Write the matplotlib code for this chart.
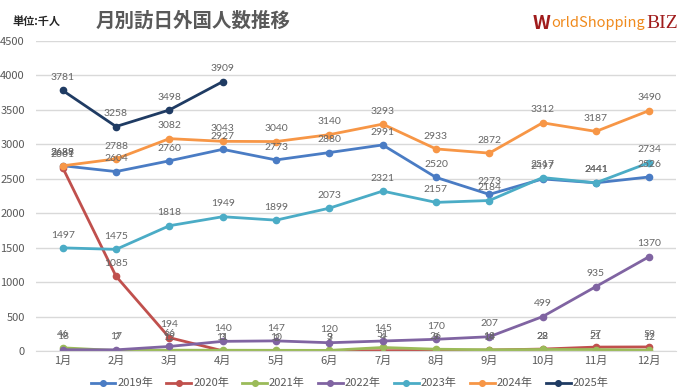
import matplotlib.pyplot as plt

plt.rcParams['font.family'] = ['Noto Sans CJK JP', 'DejaVu Sans']

months = ['1月', '2月', '3月', '4月', '5月', '6月', '7月', '8月', '9月', '10月', '11月', '12月']

# 千人
y2019 = [2689, 2604, 2760, 2927, 2773, 2880, 2991, 2520, 2273, 2497, 2441, 2526]
y2020 = [2661, 1085, 194, 3, 2, 3, 4, 9, 14, 28, 57, 59]
y2021 = [46, 7, 12, 11, 10, 9, 51, 26, 18, 22, 21, 12]
y2022 = [18, 17, 66, 140, 147, 120, 145, 170, 207, 499, 935, 1370]
y2023 = [1497, 1475, 1818, 1949, 1899, 2073, 2321, 2157, 2184, 2517, 2441, 2734]
y2024 = [2688, 2788, 3082, 3043, 3040, 3140, 3293, 2933, 2872, 3312, 3187, 3490]
y2025 = [3781, 3258, 3498, 3909]

series = [
    ('2019年', y2019, '#4a7cc4'),
    ('2020年', y2020, '#c0504d'),
    ('2021年', y2021, '#9bbb59'),
    ('2022年', y2022, '#8064a2'),
    ('2023年', y2023, '#4bacc6'),
    ('2024年', y2024, '#f79646'),
    ('2025年', y2025, '#1f3b63'),
]

fig = plt.figure(figsize=(6.8, 3.9), dpi=100)
ax = fig.add_axes([0.053, 0.10, 0.941, 0.795])

for name, vals, col in series:
    xs = list(range(len(vals)))
    ax.plot(xs, vals, color=col, lw=2, marker='o', ms=4.5, label=name)
    for x, v in zip(xs, vals):
        ax.annotate(str(v), (x, v), xytext=(0, 6), textcoords='offset points',
                    ha='center', va='bottom', fontsize=7.5, color='#666666',
                    family='Lato')

ax.set_xlim(-0.5, 11.5)
ax.set_ylim(0, 4500)
ax.set_yticks(range(0, 4501, 500))
ax.set_xticks(range(12))
ax.set_xticklabels(months)
ax.grid(axis='y', color='#d9d9d9', lw=1)
ax.set_axisbelow(True)
for s in ['top', 'right', 'left']:
    ax.spines[s].set_visible(False)
ax.spines['bottom'].set_color('#d9d9d9')
ax.tick_params(length=0, labelsize=8, colors='#595959')
ax.tick_params(axis='y', pad=8)

ax.legend(loc='upper center', bbox_to_anchor=(0.49, -0.055), ncol=7, frameon=False,
          fontsize=8, labelcolor='#595959', handlelength=2.2, handletextpad=0.2,
          columnspacing=1.2, markerscale=0.9)

fig.text(0.018, 0.945, '単位:千人', fontsize=8, fontweight='bold', color='#262626', va='center')
fig.text(0.14, 0.945, '月別訪日外国人数推移', fontsize=14, fontweight='bold', color='#595959', va='center')

# logo, pieces placed one after another
r = fig.canvas.get_renderer()
x0 = 533
parts = [('W', dict(fontsize=14, fontweight='bold', color='#a01c1c')),
         ('orldShopping', dict(fontsize=10.5, color='#f08a1c')),
         ('BIZ', dict(fontsize=14, family='Liberation Serif', color='#a01c1c'))]
for txt, kw in parts:
    t = fig.text(x0 / 680, 0.94, txt, va='center', **kw)
    x0 = t.get_window_extent(r).x1 + 1

fig.savefig('out.png')
